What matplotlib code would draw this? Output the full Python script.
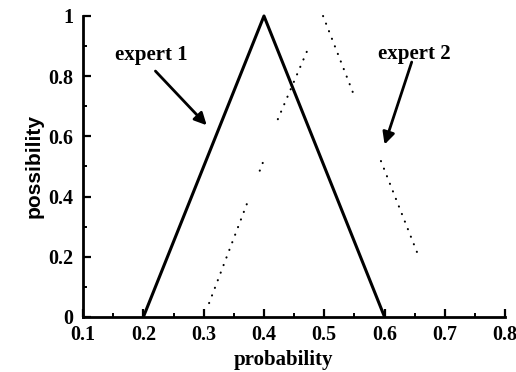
import matplotlib
matplotlib.use("Agg")
import matplotlib.pyplot as plt
from matplotlib.ticker import MultipleLocator

# Expert 1: triangular possibility distribution
e1_x = [0.2, 0.4, 0.6]
e1_y = [0.0, 1.0, 0.0]

# Expert 2: dotted pieces as visible in the picture (x, y pairs)
e2_pieces = [
    ([0.309, 0.374], [0.046, 0.388]),
    ([0.393, 0.402], [0.486, 0.533]),
    ([0.423, 0.475], [0.657, 0.900]),
    ([0.498, 0.550], [1.000, 0.733]),
    ([0.594, 0.657], [0.518, 0.199]),
]

x_ticks = [0.1, 0.2, 0.3, 0.4, 0.5, 0.6, 0.7, 0.8]
x_tick_labels = ["0.1", "0.2", "0.3", "0.4", "0.5", "0.6", "0.7", "0.8"]
y_ticks = [0, 0.2, 0.4, 0.6, 0.8, 1.0]
y_tick_labels = ["0", "0.2", "0.4", "0.6", "0.8", "1"]

annotations = [
    ("expert 1", (0.213, 0.87), (0.22, 0.817), (0.305, 0.637)),
    ("expert 2", (0.649, 0.873), (0.645, 0.847), (0.600, 0.573)),
]

plt.rcParams['font.family'] = ['Liberation Serif', 'DejaVu Serif']

fig = plt.figure(figsize=(5.16, 3.72), dpi=100)
ax = fig.add_axes([0.161, 0.148, 0.818, 0.809])

ax.plot(e1_x, e1_y, color='black', lw=2.2, solid_capstyle='butt', clip_on=False)
for xs, ys in e2_pieces:
    ax.plot(xs, ys, color='black', lw=1.5, linestyle=(0, (0.1, 3.8)),
            dash_capstyle='round', clip_on=False)

for text, txy, tail, head in annotations:
    ax.text(txy[0], txy[1], text, ha='center', va='center', fontsize=15,
            fontweight='bold')
    ax.annotate("", xy=head, xytext=tail,
                arrowprops=dict(arrowstyle='-|>', color='black', lw=2,
                                mutation_scale=18, shrinkA=0, shrinkB=0))

ax.set_xlim(0.1, 0.8)
ax.set_ylim(0, 1)
ax.set_xticks(x_ticks)
ax.set_xticklabels(x_tick_labels)
ax.set_yticks(y_ticks)
ax.set_yticklabels(y_tick_labels)
ax.xaxis.set_minor_locator(MultipleLocator(0.05))
ax.yaxis.set_minor_locator(MultipleLocator(0.1))

for s in ['top', 'right']:
    ax.spines[s].set_visible(False)
for s in ['left', 'bottom']:
    ax.spines[s].set_linewidth(2)

ax.tick_params(which='major', direction='in', length=6, width=1.6,
               labelsize=14.5)
ax.tick_params(axis='x', which='major', pad=6)
ax.tick_params(axis='y', which='major', pad=7)
ax.tick_params(which='minor', direction='in', length=3, width=1.4)
for lab in ax.get_xticklabels() + ax.get_yticklabels():
    lab.set_fontweight('bold')

ax.set_xlabel("probability", fontsize=15, fontweight='bold')
ax.xaxis.set_label_coords(0.474, -0.143, transform=ax.transAxes)
ax.xaxis.label.set_va('center')
ax.set_ylabel("possibility", fontsize=15, fontweight='bold',
              family=['Liberation Sans', 'DejaVu Sans'], labelpad=3)

fig.savefig("out.png", dpi=100)
